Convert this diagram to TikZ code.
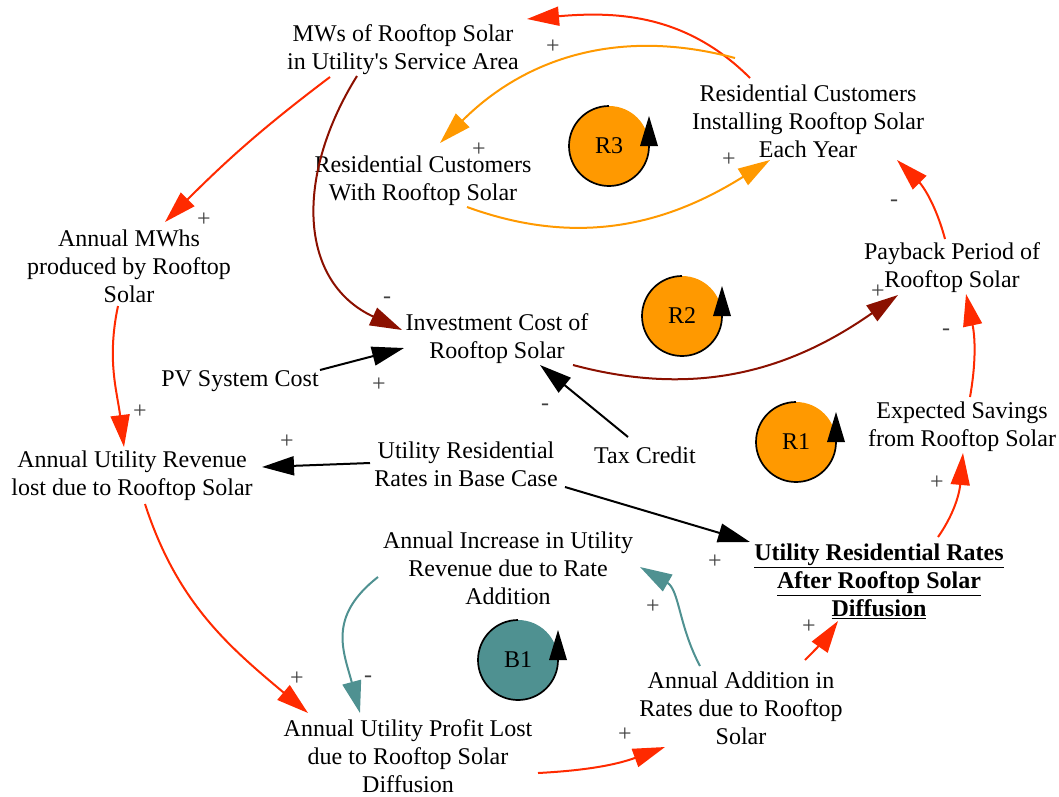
\documentclass[tikz,border=0pt]{standalone}
\usepackage{fontspec}
\setmainfont{Liberation Serif}[Ligatures=TeXOff]
\usetikzlibrary{arrows.meta}
\definecolor{cldred}{HTML}{FF2A00}
\definecolor{cldark}{HTML}{8B1000}
\definecolor{clorange}{HTML}{FF9900}
\definecolor{clteal}{HTML}{4F9191}
\definecolor{clsign}{HTML}{404040}
\newcommand{\varfont}{\fontsize{24}{28}\selectfont}
\newcommand{\signfont}{\fontsize{24}{28}\selectfont}
\tikzset{
  var/.style={align=center, font=\varfont, inner sep=0pt},
  lnk/.style={line width=2pt, -{Triangle[length=32pt,width=19pt]}},
  sign/.style={font=\signfont, text=clsign, inner sep=0pt},
  looplbl/.style={font=\varfont, inner sep=0pt}
}
\newcommand{\loopsym}[4]{%
  \fill[#3] (#1,#2) circle (40);
  \draw[line width=1.7pt] ([shift={(90:40)}]#1,#2) arc (90:360:40);
  \fill ([shift={(31,0)}]#1,#2) -- ([shift={(49,0)}]#1,#2) -- ([shift={(40,30)}]#1,#2) -- cycle;
  \node[looplbl] at (#1,#2) {#4};
}
\begin{document}
\begin{tikzpicture}[x=1pt,y=1pt]
\useasboundingbox (0,0) rectangle (1059,-796);
% nodes
\node[var] (M) at (403,-50) {MWs of Rooftop Solar\\in Utility's Service Area};
\node[var] (I) at (808,-121) {Residential Customers\\Installing Rooftop Solar\\Each Year};
\node[var] (W) at (423,-181) {Residential Customers\\With Rooftop Solar};
\node[var] (A) at (129,-266) {Annual MWhs\\produced by Rooftop\\Solar};
\node[var] (P) at (952,-268) {Payback Period of\\Rooftop Solar};
\node[var] (V) at (497,-339) {Investment Cost of\\Rooftop Solar};
\node[var] (PV) at (240,-381) {PV System Cost};
\node[var] (E) at (962,-427) {Expected Savings\\from Rooftop Solar};
\node[var] (B) at (466,-464) {Utility Residential\\Rates in Base Case};
\node[var] (T) at (645,-455) {Tax Credit};
\node[var] (Rv) at (132,-476) {Annual Utility Revenue\\lost due to Rooftop Solar};
\node[var] (N) at (508,-568) {Annual Increase in Utility\\Revenue due to Rate\\Addition};
\node[var, font=\varfont\bfseries] (F) at (879,-581) {\underline{Utility Residential Rates}\\\underline{After Rooftop Solar}\\\underline{Diffusion}};
\node[var] (D) at (741,-708) {Annual Addition in\\Rates due to Rooftop\\Solar};
\node[var] (L) at (408,-756) {Annual Utility Profit Lost\\due to Rooftop Solar\\Diffusion};
% loops
\loopsym{609}{-146}{clorange}{R3}
\loopsym{682}{-316}{clorange}{R2}
\loopsym{796}{-442}{clorange}{R1}
\loopsym{518}{-660}{clteal}{B1}
% links
\draw[lnk, cldred] ([shift={(-58,43)}]I.center) to[out=135,in=5] ([shift={(124,31)}]M.center);
\draw[lnk, clorange] ([shift={(-73,63)}]I.center) to[out=165,in=45] ([shift={(17,38)}]W.center);
\draw[lnk, clorange] ([shift={(44,-26)}]W.center) to[out=-20,in=212] ([shift={(-38,-39)}]I.center);
\draw[lnk, cldred] ([shift={(-73,-27)}]M.center) to[out=217,in=45] ([shift={(36,44)}]A.center);
\draw[lnk, cldark] ([shift={(-46,-26)}]M.center) to[out=238,in=155,looseness=1.15] ([shift={(-95,9)}]V.center);
\draw[lnk, black] ([shift={(80,11)}]PV.center) -- ([shift={(-93,-9)}]V.center);
\draw[lnk, black] ([shift={(-17,18)}]T.center) -- ([shift={(43,-26)}]V.center);
\draw[lnk, cldark] ([shift={(76,-26)}]V.center) to[out=-15,in=215] ([shift={(-54,-27)}]P.center);
\draw[lnk, cldred] ([shift={(-7,29)}]P.center) to[out=105,in=-45] ([shift={(89,-39)}]I.center);
\draw[lnk, cldred] ([shift={(8,30)}]E.center) to[out=80,in=-78] ([shift={(14,-26)}]P.center);
\draw[lnk, cldred] ([shift={(59,44)}]F.center) to[out=55,in=-95] ([shift={(1,-26)}]E.center);
\draw[lnk, black] ([shift={(99,-23)}]B.center) -- ([shift={(-129,39)}]F.center);
\draw[lnk, black] ([shift={(-96,1)}]B.center) -- ([shift={(130,9)}]Rv.center);
\draw[lnk, cldred] ([shift={(-11,-40)}]A.center) to[out=258,in=97] ([shift={(-8,29)}]Rv.center);
\draw[lnk, cldred] ([shift={(13,-28)}]Rv.center) to[out=-72,in=140] ([shift={(-100,43)}]L.center);
\draw[lnk, clteal] ([shift={(-130,-9)}]N.center) to[out=218,in=105,looseness=1.2] ([shift={(-48,43)}]L.center);
\draw[lnk, cldred] ([shift={(130,-17)}]L.center) to[out=3,in=200] ([shift={(-76,-39)}]D.center);
\draw[lnk, clteal] ([shift={(-41,42)}]D.center) to[out=118,in=-30] ([shift={(132,1)}]N.center);
\draw[lnk, cldred] ([shift={(64,48)}]D.center) to[out=45,in=235] ([shift={(-41,-40)}]F.center);
% polarity signs
\node[sign] (s1) at (553,-47) {+};
\node[sign] (s2) at (479,-150) {+};
\node[sign] (s3) at (729,-160) {+};
\node[sign] (s4) at (204,-220) {+};
\node[sign] (s5) at (387,-300) {-};
\node[sign] (s6) at (379,-385) {+};
\node[sign] (s7) at (545,-407) {-};
\node[sign] (s8) at (878,-292) {+};
\node[sign] (s9) at (894,-203) {-};
\node[sign] (s10) at (946,-332) {-};
\node[sign] (s11) at (937,-483) {+};
\node[sign] (s12) at (715,-562) {+};
\node[sign] (s13) at (287,-442) {+};
\node[sign] (s14) at (140,-412) {+};
\node[sign] (s15) at (297,-679) {+};
\node[sign] (s16) at (368,-679) {-};
\node[sign] (s17) at (625,-735) {+};
\node[sign] (s18) at (653,-607) {+};
\node[sign] (s19) at (809,-627) {+};
\end{tikzpicture}
\end{document}
